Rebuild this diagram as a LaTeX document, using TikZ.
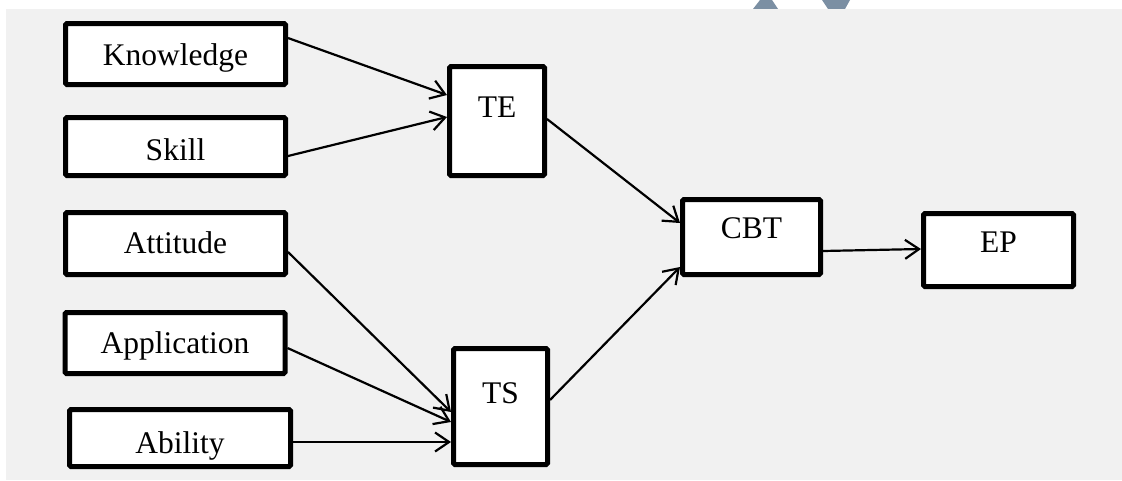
\documentclass[tikz,border=0pt]{standalone}
\usepackage{fontspec}
\setmainfont{Liberation Serif}
\usetikzlibrary{arrows.meta,calc}
\definecolor{panelgrey}{HTML}{F1F1F1}
\definecolor{stampblue}{HTML}{7B8FA3}
\tikzset{
  box/.style={draw, line width=5pt, fill=white, rounded corners=1.5pt,
    inner sep=0pt, font=\fontsize{31.5}{36}\selectfont},
  tb/.style n args={3}{minimum width=#1, text height=#2, text depth=#3},
  link/.style={line width=2.2pt, -{Straight Barb[length=14pt,width=19pt,line width=2.2pt]}}
}
\begin{document}
\begin{tikzpicture}[x=1pt,y=-1pt]
  \useasboundingbox (0,0) rectangle (1122,480);
  % page background and the grey panel
  \fill[white] (0,0) rectangle (1122,480);
  \fill[stampblue] (753,9) -- (760,0) -- (772,0) -- (778,9) -- cycle;
  \fill[stampblue] (822,0) -- (850,0) -- (845,9) -- (828,9) -- cycle;
  \fill[panelgrey] (6,9) rectangle (1122,480);

  % input factors
  \node[box, tb={220pt}{41.5pt}{19.5pt}] (know) at (175.5,54)  {Knowledge};
  \node[box, tb={220pt}{42.5pt}{15.5pt}] (skill) at (175.5,146.5) {Skill};
  \node[box, tb={220pt}{40.5pt}{21.5pt}] (att) at (175.5,243.5) {Attitude};
  \node[box, tb={220pt}{40.5pt}{20.5pt}] (app) at (175,343) {Application};
  \node[box, tb={221pt}{43.5pt}{13.5pt}] (abi) at (180,438) {Ability};

  % intermediate constructs
  \node[box, tb={95pt}{50.5pt}{58.5pt}] (te) at (497,121) {TE};
  \node[box, tb={94pt}{54.5pt}{61.5pt}] (ts) at (500.5,406.5) {TS};
  \node[box, tb={138pt}{38.5pt}{36.5pt}] (cbt) at (751.5,237) {CBT};
  \node[box, tb={150pt}{38.5pt}{34.5pt}] (ep) at (998.5,250) {EP};

  % connectors
  \draw[link] ([yshift=16pt]know.east) -- ([yshift=26pt]te.west);
  \draw[link] ([yshift=-9.5pt]skill.east) -- ([yshift=4pt]te.west);
  \draw[link] ([yshift=-8.5pt]att.east) -- ([yshift=-5.5pt]ts.west);
  \draw[link] ([yshift=-5pt]app.east) -- ([yshift=-15.5pt]ts.west);
  \draw[link] ([yshift=-4pt]abi.east) -- ([yshift=-35.5pt]ts.west);
  \draw[link] ([yshift=2pt]te.east) -- ([yshift=14pt]cbt.west);
  \draw[link] ([yshift=6.5pt]ts.east) -- ([yshift=-30pt]cbt.west);
  \draw[link] ([yshift=-14pt]cbt.east) -- ([yshift=1pt]ep.west);
\end{tikzpicture}
\end{document}
